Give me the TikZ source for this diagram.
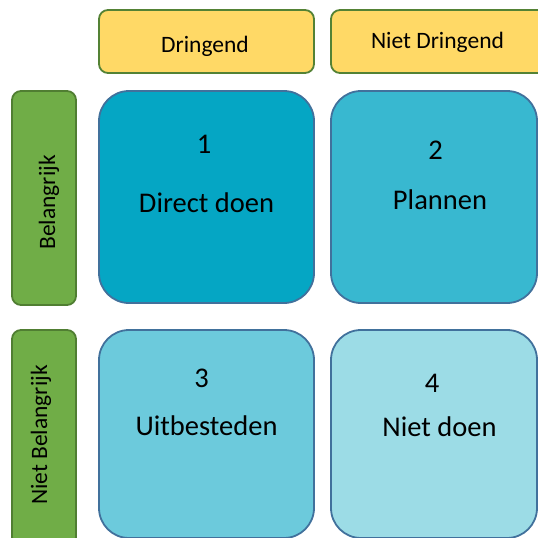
\documentclass[tikz,border=0pt]{standalone}
\usepackage{fontspec}
\setmainfont{Carlito}
\usepackage{xcolor}
\definecolor{headfill}{HTML}{FFD966}
\definecolor{headline}{HTML}{548235}
\definecolor{sidefill}{HTML}{70AD47}
\definecolor{sideline}{HTML}{507E32}
\definecolor{quadline}{HTML}{41719C}
\definecolor{qone}{HTML}{05A6C4}
\definecolor{qtwo}{HTML}{38B8D0}
\definecolor{qthree}{HTML}{6CCADC}
\definecolor{qfour}{HTML}{9CDCE6}

\begin{document}
\begin{tikzpicture}[
    x=1pt, y=-1pt,
    headbox/.style={draw=headline, fill=headfill, line width=1.8pt,
        rounded corners=9pt, inner sep=0pt},
    sidebox/.style={draw=sideline, fill=sidefill, line width=1.8pt,
        rounded corners=9pt, inner sep=0pt, minimum width=64pt},
    quadbox/.style={draw=quadline, line width=1.8pt, rounded corners=30pt,
        inner sep=0pt},
    smalltxt/.style={anchor=base, inner sep=0pt,
        font=\fontsize{23.5}{28}\selectfont},
    bigtxt/.style={anchor=base, inner sep=0pt,
        font=\fontsize{28.5}{34}\selectfont}
]
    \useasboundingbox (0,0) rectangle (538,538);
    \clip (0,0) rectangle (538,538);

    % kolomkoppen
    \node[headbox, minimum width=215pt, minimum height=63pt] (dringend) at (206.5,41.5) {};
    \node[smalltxt] (dringendtxt) at (205,52) {Dringend};
    \node[headbox, minimum width=217pt, minimum height=63pt] (nietdringend) at (439.5,41.5) {};
    \node[smalltxt] (nietdringendtxt) at (437.5,48) {Niet Dringend};

    % rijkoppen
    \node[sidebox, minimum height=214pt] (belangrijk) at (44,198) {};
    \node[smalltxt, rotate=90] (belangrijktxt) at (55,202.5) {Belangrijk};
    \node[sidebox, minimum height=216pt] (nietbelangrijk) at (44,438) {};
    \node[smalltxt, rotate=90] (nietbelangrijktxt) at (47,435) {Niet Belangrijk};

    % kwadranten
    \foreach \n/\cx/\cy/\w/\h/\kleur in {1/206.5/197/215/212/qone,
                                         2/434/197/206/212/qtwo,
                                         3/206.5/434/215/208/qthree,
                                         4/434/434/206/208/qfour} {
        \node[quadbox, fill=\kleur, minimum width=\w pt, minimum height=\h pt]
            (q\n) at (\cx,\cy) {};
    }
    \node[bigtxt] (nr1) at (204,153) {1};
    \node[bigtxt] (txt1) at (206.5,212) {Direct doen};
    \node[bigtxt] (nr2) at (435.5,159) {2};
    \node[bigtxt] (txt2) at (440,209) {Plannen};
    \node[bigtxt] (nr3) at (201.5,387) {3};
    \node[bigtxt] (txt3) at (206.5,435) {Uitbesteden};
    \node[bigtxt] (nr4) at (432,392) {4};
    \node[bigtxt] (txt4) at (439.5,436) {Niet doen};
\end{tikzpicture}
\end{document}
